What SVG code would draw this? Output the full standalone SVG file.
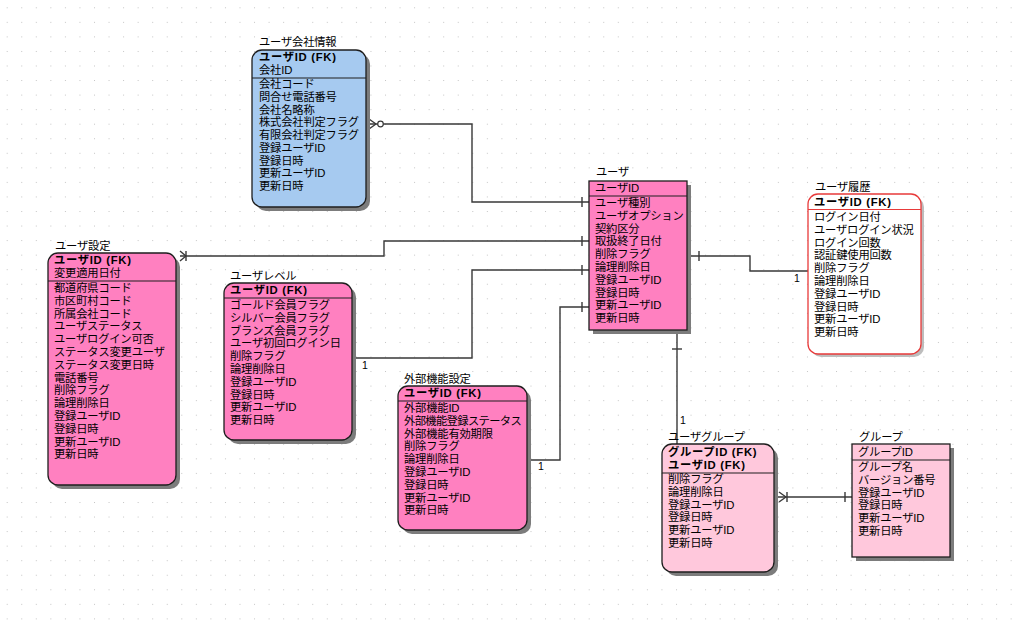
<svg xmlns="http://www.w3.org/2000/svg" width="1024" height="621" viewBox="0 0 1024 621">
  <defs>
    <pattern id="grid" patternUnits="userSpaceOnUse" x="6.7" y="7.3" width="14.55" height="14.55">
      <rect x="0" y="0" width="1" height="1" fill="#c4c4c4"/>
    </pattern>
  </defs>
  <style>
    text { font-family: "Liberation Sans", "Noto Sans CJK JP", sans-serif; font-size: 11.3px; fill: #000; letter-spacing: -0.2px; }
    .b { font-weight: 700; letter-spacing: 0.7px; }
    .tight { letter-spacing: -0.65px; }
    .one { font-size: 10.5px; letter-spacing: 0px; }
    .shadow { fill: #7c7c7c; }
    .box { stroke: #1e1e1e; stroke-width: 1.3; }
    .sep { stroke: #1e1e1e; stroke-width: 1.2; }
    .blue { fill: #a6caf0; }
    .pink { fill: #ff80c0; }
    .lpink { fill: #ffc8dc; }
    .hist { fill: #ffffff; stroke: #e83a3a; stroke-width: 1.3; }
    .hsep { stroke: #e83a3a; stroke-width: 1.2; }
    .ln { fill: none; stroke: #383838; stroke-width: 1.4; }
    .cir { fill: #ffffff; stroke: #383838; stroke-width: 1.2; }
  </style>

  <rect width="1024" height="621" fill="#ffffff"/>
  <rect width="1024" height="621" fill="url(#grid)"/>

  <!-- connectors -->
  <g id="connectors">
    <!-- ユーザ会社情報 - ユーザ -->
    <polyline class="ln" points="370,124 472,124 472,202 589,202"/>
    <line class="ln" x1="369" y1="119" x2="376" y2="124"/>
    <line class="ln" x1="369" y1="129" x2="376" y2="124"/>
    <circle class="cir" cx="380.5" cy="124" r="2.8"/>
    <line class="ln" x1="582" y1="197" x2="582" y2="207"/>

    <!-- ユーザ設定 - ユーザ -->
    <polyline class="ln" points="180,256 384,256 384,241 589,241"/>
    <line class="ln" x1="180" y1="251" x2="186" y2="256"/>
    <line class="ln" x1="180" y1="261" x2="186" y2="256"/>
    <line class="ln" x1="186" y1="251" x2="186" y2="261"/>
    <line class="ln" x1="582" y1="236" x2="582" y2="246"/>

    <!-- ユーザレベル - ユーザ -->
    <polyline class="ln" points="356,358 472,358 472,270 589,270"/>
    <line class="ln" x1="582" y1="265" x2="582" y2="275"/>
    <text class="one" x="362" y="369">1</text>

    <!-- 外部機能設定 - ユーザ -->
    <polyline class="ln" points="531,460 560,460 560,307 589,307"/>
    <line class="ln" x1="582" y1="302" x2="582" y2="312"/>
    <text class="one" x="538" y="470">1</text>

    <!-- ユーザ - ユーザ履歴 -->
    <polyline class="ln" points="691,256 750,256 750,271 808,271"/>
    <line class="ln" x1="699" y1="251" x2="699" y2="261"/>
    <text class="one" x="794" y="282">1</text>

    <!-- ユーザ - ユーザグループ -->
    <line class="ln" x1="677" y1="334" x2="677" y2="444"/>
    <line class="ln" x1="672" y1="349" x2="682" y2="349"/>
    <text class="one" x="680" y="424">1</text>

    <!-- ユーザグループ - グループ -->
    <line class="ln" x1="778" y1="497" x2="852" y2="497"/>
    <line class="ln" x1="779" y1="492" x2="786" y2="497"/>
    <line class="ln" x1="779" y1="502" x2="786" y2="497"/>
    <line class="ln" x1="787" y1="492" x2="787" y2="502"/>
    <line class="ln" x1="845" y1="492" x2="845" y2="502"/>
  </g>

  <!-- ユーザ会社情報 -->
  <g id="user-company">
    <text x="259" y="46">ユーザ会社情報</text>
    <rect class="shadow" x="256" y="54" width="114" height="157" rx="10"/>
    <rect class="box blue" x="252" y="50" width="114" height="157" rx="10"/>
    <text class="b" x="259" y="61">ユーザID (FK)</text>
    <text x="259" y="74">会社ID</text>
    <line class="sep" x1="252" y1="78" x2="366" y2="78"/>
    <text x="259" y="88">会社コード</text>
    <text x="259" y="100.8">問合せ電話番号</text>
    <text x="259" y="113.5">会社名略称</text>
    <text x="259" y="126.3">株式会社判定フラグ</text>
    <text x="259" y="139">有限会社判定フラグ</text>
    <text x="259" y="151.8">登録ユーザID</text>
    <text x="259" y="164.5">登録日時</text>
    <text x="259" y="177.3">更新ユーザID</text>
    <text x="259" y="190">更新日時</text>
  </g>

  <!-- ユーザ -->
  <g id="user">
    <text x="596" y="176">ユーザ</text>
    <rect class="shadow" x="593" y="185" width="98" height="149"/>
    <rect class="box pink" x="589" y="181" width="98" height="149"/>
    <text x="595" y="192">ユーザID</text>
    <line class="sep" x1="589" y1="196" x2="687" y2="196"/>
    <text x="595" y="207">ユーザ種別</text>
    <text x="595" y="219.8">ユーザオプション</text>
    <text x="595" y="232.6">契約区分</text>
    <text x="595" y="245.4">取扱終了日付</text>
    <text x="595" y="258.2">削除フラグ</text>
    <text x="595" y="271">論理削除日</text>
    <text x="595" y="283.8">登録ユーザID</text>
    <text x="595" y="296.6">登録日時</text>
    <text x="595" y="309.4">更新ユーザID</text>
    <text x="595" y="322.2">更新日時</text>
  </g>

  <!-- ユーザ履歴 -->
  <g id="user-history">
    <text x="815" y="191">ユーザ履歴</text>
    <rect x="811" y="197" width="113" height="160" rx="10" fill="#bdbdbd"/>
    <rect class="hist" x="808" y="194" width="113" height="160" rx="10"/>
    <text class="b" x="814" y="206">ユーザID (FK)</text>
    <line class="hsep" x1="808" y1="209.5" x2="921" y2="209.5"/>
    <text x="814" y="221">ログイン日付</text>
    <text x="814" y="233.8">ユーザログイン状況</text>
    <text x="814" y="246.6">ログイン回数</text>
    <text x="814" y="259.4">認証鍵使用回数</text>
    <text x="814" y="272.2">削除フラグ</text>
    <text x="814" y="285">論理削除日</text>
    <text x="814" y="297.8">登録ユーザID</text>
    <text x="814" y="310.6">登録日時</text>
    <text x="814" y="323.4">更新ユーザID</text>
    <text x="814" y="336.2">更新日時</text>
  </g>

  <!-- ユーザ設定 -->
  <g id="user-settings">
    <text x="55" y="250">ユーザ設定</text>
    <rect class="shadow" x="52" y="257" width="128" height="232" rx="10"/>
    <rect class="box pink" x="48" y="253" width="128" height="232" rx="10"/>
    <text class="b" x="54" y="264">ユーザID (FK)</text>
    <text x="54" y="277">変更適用日付</text>
    <line class="sep" x1="48" y1="281" x2="176" y2="281"/>
    <text x="54" y="292">都道府県コード</text>
    <text x="54" y="304.8">市区町村コード</text>
    <text x="54" y="317.6">所属会社コード</text>
    <text x="54" y="330.4">ユーザステータス</text>
    <text x="54" y="343.2">ユーザログイン可否</text>
    <text x="54" y="356">ステータス変更ユーザ</text>
    <text x="54" y="368.8">ステータス変更日時</text>
    <text x="54" y="381.6">電話番号</text>
    <text x="54" y="394.4">削除フラグ</text>
    <text x="54" y="407.2">論理削除日</text>
    <text x="54" y="420">登録ユーザID</text>
    <text x="54" y="432.8">登録日時</text>
    <text x="54" y="445.6">更新ユーザID</text>
    <text x="54" y="458.4">更新日時</text>
  </g>

  <!-- ユーザレベル -->
  <g id="user-level">
    <text x="230" y="280">ユーザレベル</text>
    <rect class="shadow" x="228" y="287" width="128" height="157" rx="10"/>
    <rect class="box pink" x="224" y="283" width="128" height="157" rx="10"/>
    <text class="b" x="230" y="294">ユーザID (FK)</text>
    <line class="sep" x1="224" y1="298" x2="352" y2="298"/>
    <text x="230" y="309">ゴールド会員フラグ</text>
    <text x="230" y="321.8">シルバー会員フラグ</text>
    <text x="230" y="334.6">ブランズ会員フラグ</text>
    <text x="230" y="347.4">ユーザ初回ログイン日</text>
    <text x="230" y="360.2">削除フラグ</text>
    <text x="230" y="373">論理削除日</text>
    <text x="230" y="385.8">登録ユーザID</text>
    <text x="230" y="398.6">登録日時</text>
    <text x="230" y="411.4">更新ユーザID</text>
    <text x="230" y="424.2">更新日時</text>
  </g>

  <!-- 外部機能設定 -->
  <g id="external-settings">
    <text x="404" y="383">外部機能設定</text>
    <rect class="shadow" x="402" y="390" width="129" height="144" rx="10"/>
    <rect class="box pink" x="398" y="386" width="129" height="144" rx="10"/>
    <text class="b" x="404" y="397">ユーザID (FK)</text>
    <line class="sep" x1="398" y1="401" x2="527" y2="401"/>
    <text x="404" y="412">外部機能ID</text>
    <text class="tight" x="404" y="424.8">外部機能登録ステータス</text>
    <text x="404" y="437.6">外部機能有効期限</text>
    <text x="404" y="450.4">削除フラグ</text>
    <text x="404" y="463.2">論理削除日</text>
    <text x="404" y="476">登録ユーザID</text>
    <text x="404" y="488.8">登録日時</text>
    <text x="404" y="501.6">更新ユーザID</text>
    <text x="404" y="514.4">更新日時</text>
  </g>

  <!-- ユーザグループ -->
  <g id="user-group">
    <text x="668" y="441">ユーザグループ</text>
    <rect class="shadow" x="666" y="448" width="112" height="128" rx="10"/>
    <rect class="box lpink" x="662" y="444" width="112" height="128" rx="10"/>
    <text class="b" x="668" y="456">グループID (FK)</text>
    <text class="b" x="668" y="469">ユーザID (FK)</text>
    <line class="sep" x1="662" y1="473" x2="774" y2="473"/>
    <text x="668" y="483">削除フラグ</text>
    <text x="668" y="495.8">論理削除日</text>
    <text x="668" y="508.6">登録ユーザID</text>
    <text x="668" y="521.4">登録日時</text>
    <text x="668" y="534.2">更新ユーザID</text>
    <text x="668" y="547">更新日時</text>
  </g>

  <!-- グループ -->
  <g id="group">
    <text x="859" y="441">グループ</text>
    <rect class="shadow" x="856" y="448" width="98" height="113"/>
    <rect class="box lpink" x="852" y="444" width="98" height="113"/>
    <text x="858" y="456">グループID</text>
    <line class="sep" x1="852" y1="460" x2="950" y2="460"/>
    <text x="858" y="471">グループ名</text>
    <text x="858" y="483.8">バージョン番号</text>
    <text x="858" y="496.6">登録ユーザID</text>
    <text x="858" y="509.4">登録日時</text>
    <text x="858" y="522.2">更新ユーザID</text>
    <text x="858" y="535">更新日時</text>
  </g>
</svg>
